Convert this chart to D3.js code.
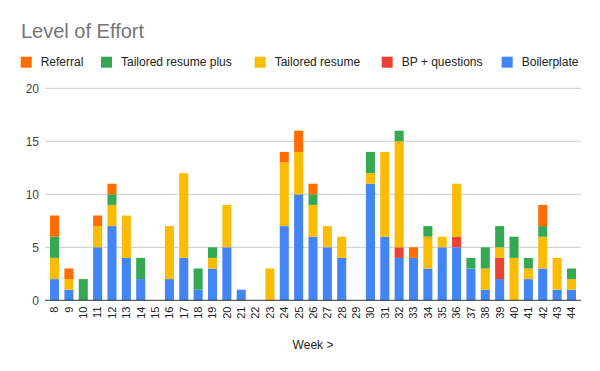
<!DOCTYPE html>
<html>
<head>
<meta charset="utf-8">
<script src="https://cdn.jsdelivr.net/npm/d3@7"></script>
<style>
  body { margin: 0; background: #fff; }
  svg { font-family: "Liberation Sans", Arial, sans-serif; }
</style>
</head>
<body>
<svg id="chart" width="600" height="371"></svg>
<script>
var weeks = ["8", "9", "10", "11", "12", "13", "14", "15", "16", "17", "18", "19", "20",
  "21", "22", "23", "24", "25", "26", "27", "28", "29", "30", "31", "32", "33", "34",
  "35", "36", "37", "38", "39", "40", "41", "42", "43", "44"];

var boilerplate      = [2, 1, 0, 5, 7, 4, 2, 0, 2, 4, 1, 3, 5, 1, 0, 0, 7, 10, 6, 5, 4, 0, 11, 6, 4, 4, 3, 5, 5, 3, 1, 2, 0, 2, 3, 1, 1];
var bpQuestions      = [0, 0, 0, 0, 0, 0, 0, 0, 0, 0, 0, 0, 0, 0, 0, 0, 0, 0, 0, 0, 0, 0, 0, 0, 1, 0, 0, 0, 1, 0, 0, 2, 0, 0, 0, 0, 0];
var tailoredResume   = [2, 1, 0, 2, 2, 4, 0, 0, 5, 8, 0, 1, 4, 0, 0, 3, 6, 4, 3, 2, 2, 0, 1, 8, 10, 0, 3, 1, 5, 0, 2, 1, 4, 1, 3, 3, 1];
var tailoredPlus     = [2, 0, 2, 0, 1, 0, 2, 0, 0, 0, 2, 1, 0, 0, 0, 0, 0, 0, 1, 0, 0, 0, 2, 0, 1, 0, 1, 0, 0, 1, 2, 2, 2, 1, 1, 0, 1];
var referral         = [2, 1, 0, 1, 1, 0, 0, 0, 0, 0, 0, 0, 0, 0, 0, 0, 1, 2, 1, 0, 0, 0, 0, 0, 0, 1, 0, 0, 0, 0, 0, 0, 0, 0, 2, 0, 0];

var yTicks = [0, 5, 10, 15, 20];

// stacking order, bottom to top
var series = [
  {key: "Boilerplate", values: boilerplate, color: "#4285f4"},
  {key: "BP + questions", values: bpQuestions, color: "#ea4335"},
  {key: "Tailored resume", values: tailoredResume, color: "#fbbc04"},
  {key: "Tailored resume plus", values: tailoredPlus, color: "#34a853"},
  {key: "Referral", values: referral, color: "#ff6d01"}
];

var rows = weeks.map(function(w, i) {
  var r = {week: w};
  series.forEach(function(s) { r[s.key] = s.values[i]; });
  return r;
});

var svg = d3.select("#chart");
var plotLeft = 45, plotRight = 581, plotTop = 88.3, plotBottom = 300.3;

var x = d3.scaleBand()
    .domain(weeks)
    .range([plotLeft, plotRight])
    .paddingInner(0.37)
    .paddingOuter(0.35);

var y = d3.scaleLinear()
    .domain([0, 20])
    .range([plotBottom, plotTop]);

var color = d3.scaleOrdinal()
    .domain(series.map(function(s) { return s.key; }))
    .range(series.map(function(s) { return s.color; }));

// title
svg.append("text")
    .attr("x", 21)
    .attr("y", 38.3)
    .attr("fill", "#757575")
    .style("font-size", "20px")
    .text("Level of Effort");

// gridlines
svg.append("g")
  .selectAll("line")
  .data(yTicks.slice(1))
  .enter().append("line")
    .attr("x1", plotLeft)
    .attr("x2", plotRight)
    .attr("y1", function(d) { return y(d); })
    .attr("y2", function(d) { return y(d); })
    .attr("stroke", "#cccccc")
    .attr("stroke-width", 1);

// y labels
svg.append("g")
  .selectAll("text")
  .data(yTicks)
  .enter().append("text")
    .attr("x", 39)
    .attr("y", function(d) { return y(d); })
    .attr("dy", "0.35em")
    .attr("text-anchor", "end")
    .attr("fill", "#444")
    .style("font-size", "12px")
    .text(function(d) { return d; });

// bars
var stack = d3.stack().keys(series.map(function(s) { return s.key; }));

svg.append("g")
  .selectAll("g")
  .data(stack(rows))
  .enter().append("g")
    .attr("fill", function(d) { return color(d.key); })
  .selectAll("rect")
  .data(function(d) { return d.filter(function(p) { return p[1] > p[0]; }); })
  .enter().append("rect")
    .attr("x", function(d) { return x(d.data.week); })
    .attr("y", function(d) { return y(d[1]); })
    .attr("height", function(d) { return y(d[0]) - y(d[1]); })
    .attr("width", x.bandwidth());

// baseline
svg.append("line")
    .attr("x1", plotLeft)
    .attr("x2", plotRight)
    .attr("y1", y(0))
    .attr("y2", y(0))
    .attr("stroke", "#333")
    .attr("stroke-width", 1);

// x labels, rotated
svg.append("g")
  .selectAll("text")
  .data(weeks)
  .enter().append("text")
    .attr("transform", function(d) {
      return "translate(" + (x(d) + x.bandwidth() / 2) + ",306.5) rotate(-90)";
    })
    .attr("dy", "0.35em")
    .attr("text-anchor", "end")
    .attr("fill", "#222")
    .style("font-size", "11px")
    .text(function(d) { return d; });

svg.append("text")
    .attr("x", (plotLeft + plotRight) / 2)
    .attr("y", 349)
    .attr("text-anchor", "middle")
    .attr("fill", "#222")
    .style("font-size", "12px")
    .text("Week >");

// legend, reverse of stack order
var legendX = [20.7, 101, 254.7, 381.7, 501.7];
var legend = svg.append("g")
  .selectAll("g")
  .data(series.slice().reverse())
  .enter().append("g")
    .attr("transform", function(d, i) { return "translate(" + legendX[i] + ",56.7)"; });

legend.append("rect")
    .attr("width", 11)
    .attr("height", 11)
    .attr("fill", function(d) { return d.color; });

legend.append("text")
    .attr("x", 20)
    .attr("y", 9.5)
    .attr("fill", "#222")
    .style("font-size", "12px")
    .text(function(d) { return d.key; });
</script>
</body>
</html>
